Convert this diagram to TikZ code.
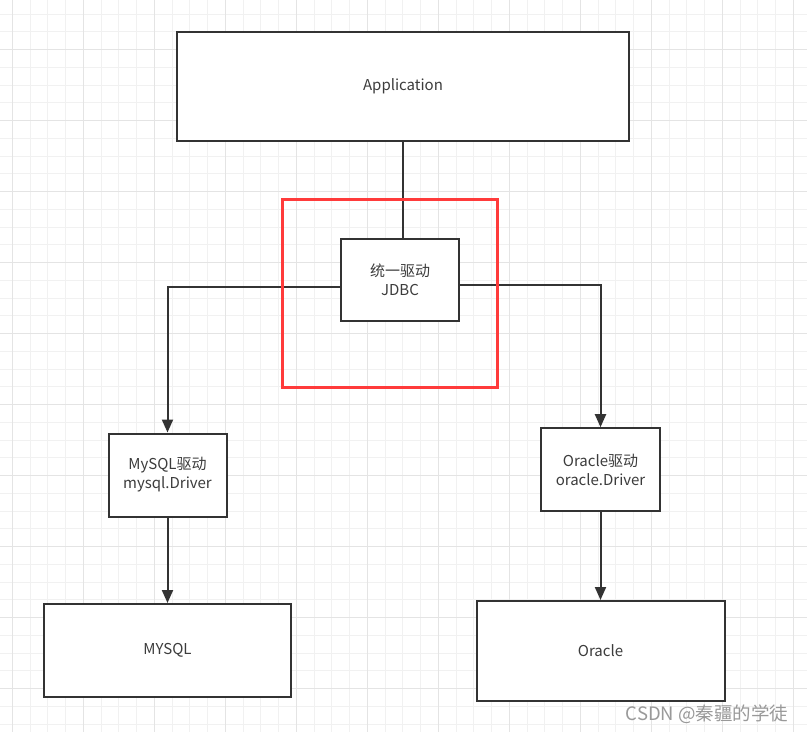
\documentclass[tikz,border=0pt]{standalone}
\usepackage{fontspec}
\setmainfont{Noto Sans CJK SC}
\usetikzlibrary{arrows.meta}
\definecolor{gridminor}{HTML}{F1F1F1}
\definecolor{gridmajor}{HTML}{E4E4E4}
\definecolor{linegray}{HTML}{333333}
\definecolor{textgray}{HTML}{3C3C3C}
\definecolor{markred}{HTML}{FF3B3B}

\begin{document}
\begin{tikzpicture}[
    x=1pt, y=-1pt,
    box/.style 2 args={draw=linegray, line width=2pt, fill=white, minimum width=#1, minimum height=#2, inner sep=0pt, align=center, text=textgray, font=\fontsize{15}{19}\selectfont},
    arr/.style={-{Triangle[width=11pt, length=13pt]}, line width=2pt, draw=linegray}
]
\clip (0,0) rectangle (807,732);
\fill[white] (0,0) rectangle (807,732);

% grid
\foreach \i in {-1,...,45} \draw[gridminor, line width=1pt] ({12.3+17.75*\i},0) -- ++(0,732);
\foreach \j in {-1,...,41} \draw[gridminor, line width=1pt] (0,{14+17.75*\j}) -- ++(807,0);
\foreach \i in {0,...,11} \draw[gridmajor, line width=1pt] ({12.3+71*\i},0) -- ++(0,732);
\foreach \j in {-1,...,10} \draw[gridmajor, line width=1pt] (0,{49.5+71*\j}) -- ++(807,0);

% boxes
\node[box={452pt}{109pt}] (app) at (403, 86.5) {Application};
\node[box={118pt}{82pt}] (jdbc) at (400, 279.7) {统一驱动\\JDBC};
\node[box={118pt}{83pt}] (mysqldrv) at (167.5, 475) {MySQL驱动\\mysql.Driver};
\node[box={119pt}{83pt}] (oracledrv) at (600.5, 469.7) {Oracle驱动\\oracle.Driver};
\node[box={247pt}{93pt}] (mysql) at (167.5, 650.5) {MYSQL};
\node[box={248pt}{100pt}] (oracle) at (600.5, 651) {Oracle};

% connectors
\draw[line width=2pt, draw=linegray] (app.south) -- (app.south |- jdbc.north);
\draw[arr] ([yshift=-7.5pt]jdbc.west) -| (mysqldrv.north);
\draw[arr] ([yshift=-5pt]jdbc.east) -| (oracledrv.north);
\draw[arr] (mysqldrv.south) -- (mysql.north);
\draw[arr] (oracledrv.south) -- (oracle.north);

% highlight
\draw[markred, line width=3pt] (282.7,199) rectangle (497.3,387.3);

% watermark
\node[text=gray!80, font=\fontsize{18.5}{22}\selectfont] (mark) at (707, 714) {CSDN @秦疆的学徒};
\end{tikzpicture}
\end{document}
